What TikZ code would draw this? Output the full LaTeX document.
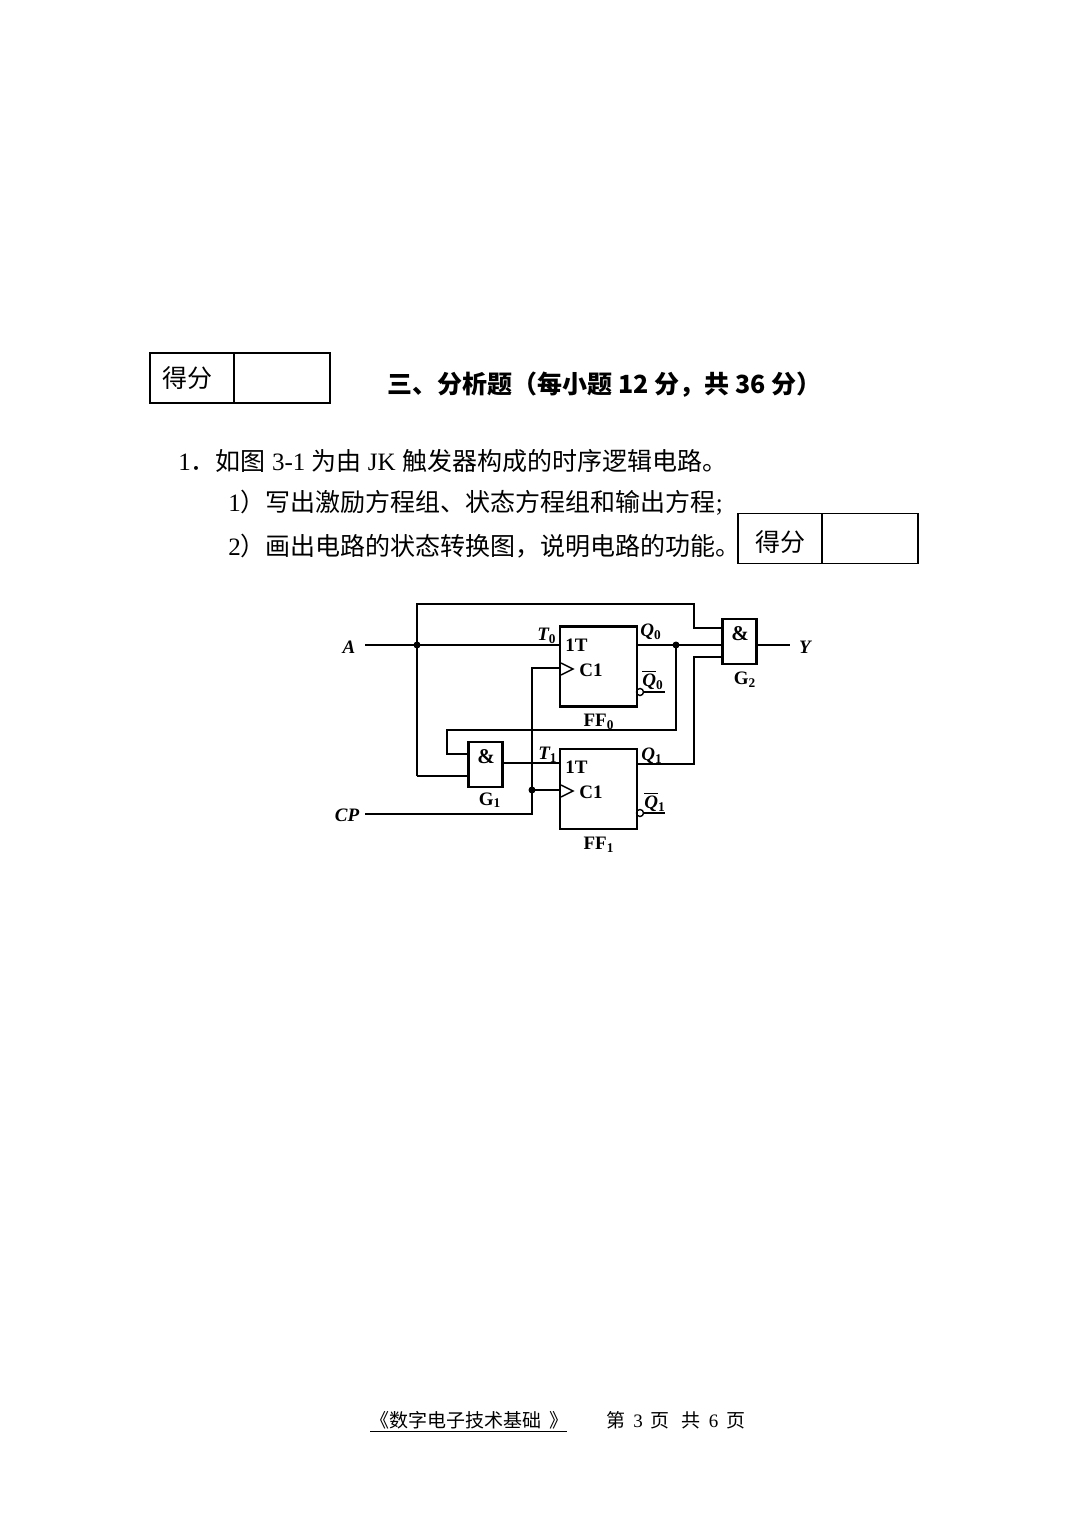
\documentclass[tikz,border=0pt]{standalone}
\usepackage{fontspec}
\setmainfont{Liberation Serif}
\newfontfamily\cjk{Noto Sans CJK SC}
\tikzset{
  wire/.style={line width=0.9pt},
  ffbox/.style={draw, line width=1.4pt, inner sep=0pt, minimum width=38.5pt, minimum height=40pt},
  gatebox/.style={draw, line width=1.4pt, inner sep=0pt, minimum width=17pt, minimum height=22.5pt},
  cell/.style={draw, line width=0.6pt, inner sep=0pt, minimum height=25pt},
  lbl/.style={inner sep=0pt, font=\fontsize{9.5}{11}\selectfont\bfseries\itshape},
  blbl/.style={inner sep=0pt, font=\fontsize{9.5}{11}\selectfont\bfseries},
  txt/.style={inner sep=0pt, anchor=west, font=\fontsize{12.5}{15}\selectfont},
  dot/.style={circle, fill, inner sep=0pt, minimum size=3.5pt},
  bub/.style={circle, draw, line width=0.7pt, inner sep=0pt, minimum size=3.5pt}
}
\begin{document}
\begin{tikzpicture}[x=0.5pt,y=-0.5pt]
\useasboundingbox (0,0) rectangle (1087,1536);
% score boxes
\node[cell, minimum width=42pt] (s1a) at (192,378) {};
\node[cell, minimum width=48pt] (s1b) at (282,378) {};
\node[inner sep=0pt, font=\fontsize{12.5}{15}\selectfont\cjk] (s1t) at (187,378) {得分};
\node[cell, minimum width=42pt] (s2a) at (780,538.5) {};
\node[cell, minimum width=48pt] (s2b) at (870,538.5) {};
\node[inner sep=0pt, font=\fontsize{12.5}{15}\selectfont\cjk] (s2t) at (780,542) {得分};
% title and text
\node[txt, font=\fontsize{12.5}{15}\selectfont\cjk\bfseries] (title) at (387,385) {三、分析题（每小题 12 分，共 36 分）};
\node[txt] (l1) at (178,461) {1{\cjk ．}{\cjk 如图} 3-1 {\cjk 为由} JK {\cjk 触发器构成的时序逻辑电路。}};
\node[txt] (l2) at (228,503) {1{\cjk ）写出激励方程组、状态方程组和输出方程};};
\node[txt] (l3) at (228,546) {2{\cjk ）画出电路的状态转换图，说明电路的功能。}};
% flip-flops
\node[ffbox] (ff0) at (598.5,666.5) {};
\node[ffbox] (ff1) at (598.5,789) {};
\node[gatebox] (g1) at (485.5,764.5) {};
\node[gatebox] (g2) at (739.5,641.5) {};
\node[blbl, font=\fontsize{10.5}{12}\selectfont\bfseries] (g1amp) at (486,757) {\&};
\node[blbl, font=\fontsize{10.5}{12}\selectfont\bfseries] (g2amp) at (740,634) {\&};
\node[blbl, anchor=west] (ff0t) at (565,645) {1T};
\node[blbl, anchor=west] (ff0c) at (579,670) {C1};
\node[blbl, anchor=west] (ff1t) at (565,767) {1T};
\node[blbl, anchor=west] (ff1c) at (579,792) {C1};
\draw[line width=0.7pt] (561,663) -- (573,669) -- (561,675);
\draw[line width=0.7pt] (561,785) -- (573,791) -- (561,797);
% bubbles
\node[bub] (b0) at (640,692) {};
\node[bub] (b1) at (640,813) {};
\coordinate (b0e) at (665,692);
\coordinate (b1e) at (665,813);
\draw[wire] (b0) -- (b0e);
\draw[wire] (b1) -- (b1e);
% coordinates
\coordinate (Ain) at (365,645);
\coordinate (CPin) at (365,814);
\coordinate (Yout) at (790,645);
\coordinate (ja) at (417,645);
\coordinate (jq0) at (676,645);
\coordinate (jcp) at (532,790);
\node[dot] at (ja) {};
\node[dot] at (jq0) {};
\node[dot] at (jcp) {};
% wires
\draw[wire] (Ain) -- (560,645);
\draw[wire] (417,776) -- (417,604) -- (694,604) -- (694,628) -- (722,628);
\draw[wire] (417,776) -- (469,776);
\draw[wire] (637,645) -- (722,645);
\draw[wire] (jq0) -- (676,730) -- (447,730) -- (447,754) -- (469,754);
\draw[wire] (502,763) -- (560,763);
\draw[wire] (637,764) -- (694,764) -- (694,657) -- (722,657);
\draw[wire] (CPin) -- (532,814) -- (532,668) -- (560,668);
\draw[wire] (jcp) -- (560,790);
\draw[wire] (757,645) -- (Yout);
% labels
\node[lbl] (Alab) at (349,647) {A};
\node[lbl] (CPlab) at (347,815) {CP};
\node[lbl] (Ylab) at (805,647) {Y};
\node[lbl] (T0lab) at (547,636) {T\textsubscript{\upshape 0}};
\node[lbl] (T1lab) at (548,755) {T\textsubscript{\upshape 1}};
\node[lbl] (Q0lab) at (651,632) {Q\textsubscript{\upshape 0}};
\node[lbl] (Q0blab) at (653,680) {$\overline{\mbox{\textbf{\textit{Q}}}}$\textsubscript{\upshape 0}};
\node[lbl] (Q1lab) at (652,756) {Q\textsubscript{\upshape 1}};
\node[lbl] (Q1blab) at (655,802) {$\overline{\mbox{\textbf{\textit{Q}}}}$\textsubscript{\upshape 1}};
\node[blbl] (FF0lab) at (599,722) {FF\textsubscript{0}};
\node[blbl] (FF1lab) at (599,845) {FF\textsubscript{1}};
\node[blbl] (G1lab) at (490,800) {G\textsubscript{1}};
\node[blbl] (G2lab) at (745,680) {G\textsubscript{2}};
% footer
\node[inner sep=0pt, anchor=west, font=\fontsize{9.5}{11}\selectfont\cjk] (foot) at (370,1420) {《数字电子技术基础\ \ 》};
\coordinate (ul1) at (370,1431);
\coordinate (ul2) at (567,1431);
\draw[line width=0.5pt] (ul1) -- (ul2);
\node[inner sep=0pt, anchor=west, font=\fontsize{9.5}{11}\selectfont] (page) at (606,1420) {{\cjk 第}\hspace{4pt}3\hspace{4pt}{\cjk 页}\hspace{6pt}{\cjk 共}\hspace{4pt}6\hspace{4pt}{\cjk 页}};
\end{tikzpicture}
\end{document}
